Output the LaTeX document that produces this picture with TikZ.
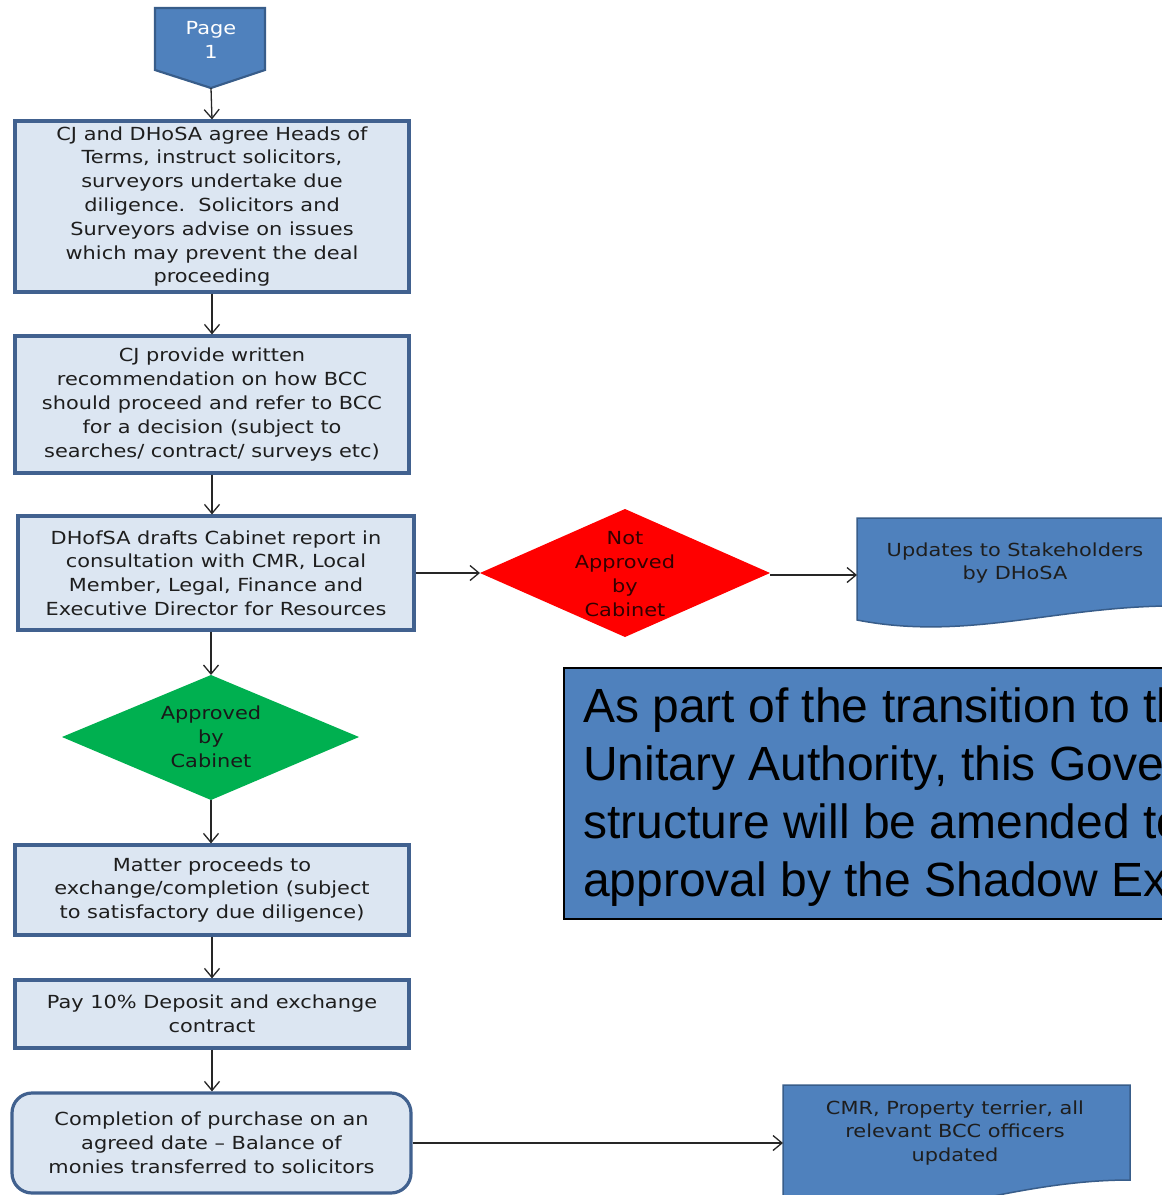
\documentclass[tikz,border=0pt]{standalone}
\usepackage{fontspec}
\setmainfont{DejaVu Sans}[FakeStretch=1.16]
\newfontfamily\arialf{Liberation Sans}
\usetikzlibrary{arrows.meta}
\definecolor{boxfill}{HTML}{DCE6F2}
\definecolor{boxline}{HTML}{41618F}
\definecolor{docfill}{HTML}{4F81BD}
\definecolor{docline}{HTML}{385D8A}
\definecolor{okgreen}{HTML}{00B050}
\definecolor{txt}{HTML}{1E1E1E}
\begin{document}
\begin{tikzpicture}[x=1pt,y=-1pt,
  procbox/.style={draw=boxline, line width=3.2pt, fill=boxfill, inner sep=0pt, align=center,
    font=\fontsize{18}{23.8}\selectfont, text=txt},
  lbl/.style={inner sep=0pt, align=center, font=\fontsize{18}{23.8}\selectfont, text=txt},
  flow/.style={-{Straight Barb[length=9pt,width=15pt,line width=1.3pt]}, line width=1.3pt, black!85}]
\clip (0,0) rectangle (1162,1195);
\fill[white] (0,0) rectangle (1162,1195);

% off-page connector
\draw[fill=docfill, draw=docline, line width=2.2pt] (155,8) -- (265,8) -- (265,70) -- (211,88) -- (155,70) -- cycle;
\node[lbl, text=white] (page) at (211,40) {Page\\1};
\coordinate (pagetip) at (211,88);

% process boxes
\node[procbox, minimum width=394pt, minimum height=171pt] (b1) at (212,206.5)
  {CJ and DHoSA agree Heads of\\Terms, instruct solicitors,\\surveyors undertake due\\diligence.\ \ Solicitors and\\Surveyors advise on issues\\which may prevent the deal\\proceeding};
\node[procbox, minimum width=394pt, minimum height=137pt] (b2) at (212,404.5)
  {CJ provide written\\recommendation on how BCC\\should proceed and refer to BCC\\for a decision (subject to\\searches/ contract/ surveys etc)};
\node[procbox, minimum width=396pt, minimum height=114pt] (b3) at (216,573)
  {DHofSA drafts Cabinet report in\\consultation with CMR, Local\\Member, Legal, Finance and\\Executive Director for Resources};
\node[procbox, minimum width=394pt, minimum height=90pt] (b4) at (212,890)
  {Matter proceeds to\\exchange/completion (subject\\to satisfactory due diligence)};
\node[procbox, minimum width=394pt, minimum height=68pt] (b5) at (212,1014)
  {Pay 10\% Deposit and exchange\\contract};
\node[procbox, rounded corners=20pt, minimum width=399pt, minimum height=100pt] (b6) at (211.5,1143)
  {Completion of purchase on an\\agreed date -- Balance of\\monies transferred to solicitors};

% red diamond
\fill[red] (480,573) -- (625,509) -- (770,573) -- (625,637) -- cycle;
\node[lbl, text=black!80!red] (nab) at (625,574) {Not\\Approved\\by\\Cabinet};
\coordinate (nabW) at (480,573);
\coordinate (nabE) at (770,575);

% green diamond
\fill[okgreen] (62,737) -- (211,675) -- (359,737) -- (211,800) -- cycle;
\node[lbl, text=black!90] (ab) at (211,737) {Approved\\by\\Cabinet};
\coordinate (abN) at (211,675);
\coordinate (abS) at (211,800);

% stakeholders document
\draw[fill=docfill, draw=docline, line width=1.5pt] (857,518) -- (1185,518) -- (1185,606)
  .. controls (1060,604) and (970,642) .. (857,620) -- cycle;
\node[lbl] (stk) at (1015,563) {Updates to Stakeholders\\by DHoSA};
\coordinate (stkW) at (857,575);

% CMR document
\draw[fill=docfill, draw=docline, line width=1.5pt] (783,1085) -- (1130,1085) -- (1130,1180)
  .. controls (1050,1180) and (980,1200) .. (900,1215) -- (783,1215) -- cycle;
\node[lbl] (cmr) at (955,1133) {CMR, Property terrier, all\\relevant BCC officers\\updated};
\coordinate (cmrW) at (783,1146);

% note box
\node[draw=black, line width=2pt, fill=docfill, minimum width=640pt, minimum height=251pt,
  anchor=north west, inner sep=0pt] (note) at (563,667) {};
\node[anchor=north west, inner sep=0pt, align=left, text=black,
  font=\arialf\fontsize{48}{58}\selectfont] (notetext) at (583,688)
  {As part of the transition to the\\Unitary Authority, this Governance\\structure will be amended to\\approval by the Shadow Executive};

% connectors
\draw[flow] (pagetip) -- (b1.north);
\draw[flow] (b1.south) -- (b2.north);
\draw[flow] (b2.south) -- (b2.south |- b3.north);
\draw[flow] (b3.east) -- (nabW);
\draw[flow] (nabE) -- (stkW);
\draw[flow] (b3.south -| abN) -- (abN);
\draw[flow] (abS) -- (b4.north -| abS);
\draw[flow] (b4.south) -- (b5.north);
\draw[flow] (b5.south) -- (b6.north -| b5.south);
\draw[flow] (b6.east) -- (b6.east -| cmrW);
\end{tikzpicture}
\end{document}
